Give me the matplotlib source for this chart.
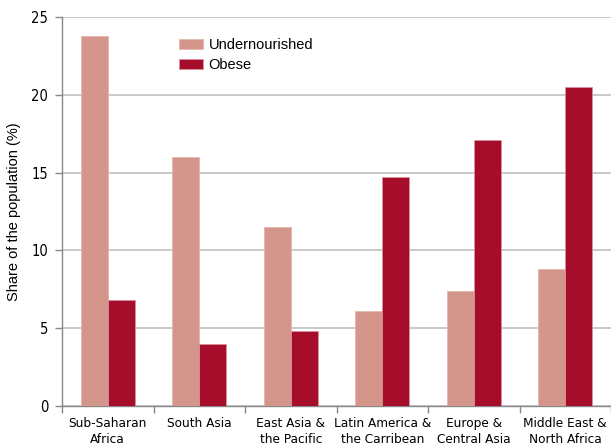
import matplotlib
matplotlib.use("Agg")
import matplotlib.pyplot as plt
import numpy as np
from matplotlib import font_manager

categories = ["Sub-Saharan\nAfrica", "South Asia", "East Asia &\nthe Pacific",
              "Latin America &\nthe Carribean", "Europe &\nCentral Asia", "Middle East &\nNorth Africa"]
undernourished = [23.8, 16.0, 11.5, 6.1, 7.4, 8.8]
obese = [6.8, 4.0, 4.8, 14.7, 17.1, 20.5]
yticks = [0, 5, 10, 15, 20, 25]

fl = font_manager.fontManager.ttflist
names = {f.name for f in fl}
tick_kw = dict(fontfamily="Liberation Sans", fontsize=9.2)
ytick_kw = dict(fontfamily="Liberation Sans", fontsize=10)
if "Liberation Sans Narrow" in names:
    tick_kw = dict(fontfamily="Liberation Sans Narrow", fontsize=10.5)
    ytick_kw = dict(fontfamily="Liberation Sans Narrow", fontsize=11)
elif any(f.name == "DejaVu Sans" and "condensed" in str(f.stretch) for f in fl):
    tick_kw = dict(fontfamily="DejaVu Sans", fontstretch="condensed", fontsize=9.7)
    ytick_kw = dict(fontfamily="DejaVu Sans", fontstretch="condensed", fontsize=10.5)

fig = plt.figure(figsize=(6.11, 4.48), dpi=100)
ax = fig.add_axes([62/611, 1-406/448, 1-62/611, (406-17)/448])

x = np.arange(len(categories))
w = 0.295
c_under = "#D4968B"
c_obese = "#A50D2A"
ax.bar(x - w/2, undernourished, w, color=c_under, edgecolor="#E3B6AE", linewidth=0.6, label="Undernourished", zorder=3)
ax.bar(x + w/2, obese, w, color=c_obese, edgecolor="#D9909C", linewidth=0.6, label="Obese", zorder=3)

ax.set_xlim(-0.5, len(categories) - 0.5)
ax.set_ylim(0, 25)
ax.set_yticks(yticks)
ax.set_yticklabels([str(t) for t in yticks], **ytick_kw)
ax.yaxis.grid(True, color="#C0C0C0", linewidth=1.2, zorder=0)
ax.set_axisbelow(True)

ax.set_xticks(x)
ax.set_xticklabels(categories, linespacing=1.3, va="top", **tick_kw)
ax.set_xticks(np.arange(-0.5, len(categories)), minor=True)
ax.tick_params(axis="x", which="major", length=0, pad=8)
ax.tick_params(axis="x", which="minor", length=5, color="#888888", width=1)
ax.tick_params(axis="y", length=5, color="#888888", width=1, pad=5)

for s in ["top", "right"]:
    ax.spines[s].set_visible(False)
for s in ["left", "bottom"]:
    ax.spines[s].set_color("#888888")
    ax.spines[s].set_linewidth(1)

ax.set_ylabel("Share of the population (%)", fontfamily="Liberation Sans", fontsize=10.5)
ax.yaxis.set_label_coords(-(62 - 21) / 550, 0.5)

ax.legend(loc="upper left", bbox_to_anchor=(0.19, 0.98), frameon=False,
          prop={"family": "Liberation Sans", "size": 10.5}, handlelength=1.6, handleheight=0.7,
          handletextpad=0.4, labelspacing=0.45)

fig.savefig("out.png", dpi=100)
